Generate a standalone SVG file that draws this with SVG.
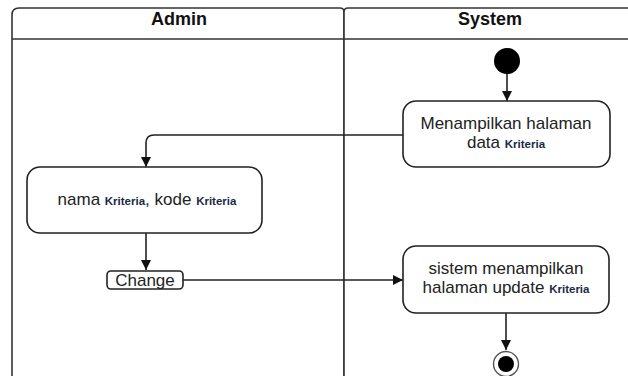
<svg xmlns="http://www.w3.org/2000/svg" width="628" height="376" viewBox="0 0 628 376">
  <style>
    .lane { fill: #ffffff; stroke: #333333; stroke-width: 1.6; }
    .hdr { font-family: "Liberation Sans", Arial, sans-serif; font-size: 18px; font-weight: bold; fill: #111111; text-anchor: middle; }
    .act { fill: #ffffff; stroke: #222222; stroke-width: 1.6; }
    .txt { font-family: "Liberation Sans", Arial, sans-serif; font-size: 17px; fill: #222222; text-anchor: middle; }
    .kw { font-family: "Liberation Sans", Arial, sans-serif; font-size: 11.5px; font-weight: bold; fill: #1b2a47; }
    .edge { fill: none; stroke: #222222; stroke-width: 1.6; }
  </style>
  <defs>
    <marker id="arrow" viewBox="0 0 10 10" refX="10" refY="5" markerWidth="10" markerHeight="10" markerUnits="userSpaceOnUse" orient="auto">
      <path d="M0,0 L10,5 L0,10 Z" fill="#111111"/>
    </marker>
  </defs>

  <rect width="628" height="376" fill="#ffffff"/>

  <!-- swimlanes -->
  <g id="lane-admin">
    <path class="lane" d="M12,390 V15 Q12,8 19,8 H340 Q344,8 344,12 V390"/>
    <line class="lane" x1="12" y1="39" x2="344" y2="39"/>
    <text class="hdr" x="179" y="25">Admin</text>
  </g>
  <g id="lane-system">
    <path class="lane" d="M344,390 V12 Q344,8 348,8 H640"/>
    <line class="lane" x1="344" y1="39" x2="640" y2="39"/>
    <text class="hdr" x="490" y="25">System</text>
  </g>

  <!-- connectors -->
  <g id="connectors">
    <path class="edge" d="M507,74 V101" marker-end="url(#arrow)"/>
    <path class="edge" d="M403,135 H154 Q146,135 146,143 V167" marker-end="url(#arrow)"/>
    <path class="edge" d="M146,233 V270" marker-end="url(#arrow)"/>
    <path class="edge" d="M183,280 H403" marker-end="url(#arrow)"/>
    <path class="edge" d="M506,313 V350" marker-end="url(#arrow)"/>
  </g>

  <!-- start node -->
  <g id="start">
    <circle cx="507" cy="61" r="13" fill="#000000"/>
  </g>

  <g id="show-kriteria">
    <rect class="act" x="403" y="101" width="207" height="66" rx="13"/>
    <text class="txt" x="506" y="129">Menampilkan halaman</text>
    <text class="txt" x="506" y="148">data <tspan class="kw">Kriteria</tspan></text>
  </g>

  <g id="input-kriteria">
    <rect class="act" x="27" y="167" width="235" height="66" rx="13"/>
    <text class="txt" x="147" y="205">nama <tspan class="kw">Kriteria</tspan>, kode <tspan class="kw">Kriteria</tspan></text>
  </g>

  <g id="change">
    <rect class="act" x="107" y="271" width="76" height="18" rx="4"/>
    <text class="txt" x="145" y="286">Change</text>
  </g>

  <g id="show-update">
    <rect class="act" x="403" y="246" width="206" height="67" rx="13"/>
    <text class="txt" x="506" y="274">sistem menampilkan</text>
    <text class="txt" x="506" y="293">halaman update <tspan class="kw">Kriteria</tspan></text>
  </g>

  <!-- end node -->
  <g id="end">
    <circle cx="506" cy="364" r="12.5" fill="#ffffff" stroke="#555555" stroke-width="1.4"/>
    <circle cx="506" cy="364" r="8" fill="#000000"/>
  </g>
</svg>
